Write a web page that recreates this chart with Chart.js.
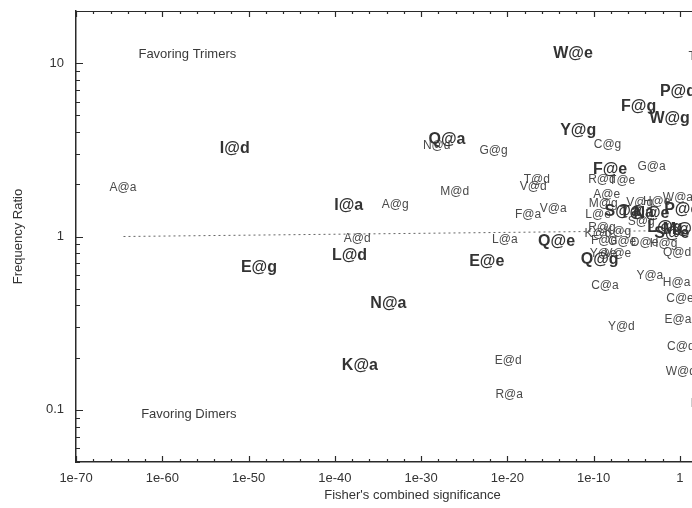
<!DOCTYPE html>
<html>
<head>
<title>Frequency ratio vs Fisher's combined significance</title>
<script src="https://cdn.jsdelivr.net/npm/chart.js"></script>
<style>
  html, body { margin: 0; padding: 0; overflow: hidden; background: #fff; }
</style>
</head>
<body>
<canvas id="fisherChart" width="760" height="508"></canvas>
<script>
// significant residue@position pairs (drawn bold)
const strongNames = ['W@e', 'P@d', 'F@g', 'W@g', 'Y@g', 'F@e', 'I@d', 'Q@a', 'I@a', 'L@d',
                     'E@g', 'N@a', 'K@a', 'E@e', 'Q@e', 'Q@g',
                     'S@a', 'T@a', 'N@e', 'P@e', 'L@g', 'M@a', 'S@e'];
const strongP = [4e-13, 0.58, 1.6e-5, 0.063, 1.6e-12, 7.9e-9, 2.5e-52, 1e-27, 4e-39, 5e-39,
                 1.6e-49, 1.6e-34, 8e-38, 4e-23, 5e-15, 5e-10,
                 2e-7, 1e-5, 5e-4, 1.6, 0.018, 1.6, 0.115];
const strongRatio = [11.3, 6.9, 5.6, 4.78, 4.08, 2.43, 3.21, 3.62, 1.51, 0.777,
                     0.663, 0.411, 0.181, 0.718, 0.936, 0.738,
                     1.39, 1.37, 1.36, 1.43, 1.13, 1.1, 1.04];

// remaining pairs (drawn plain)
const weakNames = ['A@a', 'N@d', 'G@g', 'M@d', 'T@d', 'V@d', 'F@a', 'V@a', 'L@a', 'A@g',
                   'A@d', 'E@d', 'R@a', 'C@g', 'G@a', 'Y@a', 'H@a', 'C@a', 'C@e', 'E@a',
                   'Y@d', 'C@d', 'W@d', 'Q@d',
                   'R@d', 'T@e', 'A@e', 'M@g', 'V@g', 'H@e', 'W@a', 'L@e', 'S@g', 'R@g',
                   'K@d', 'K@g', 'F@d', 'G@e', 'D@e', 'H@g', 'Y@e', 'V@e', 'T@g', 'D@d'];
const weakP = [2.8e-65, 6.3e-29, 2.5e-22, 7.9e-27, 2.5e-17, 1e-17, 2.5e-18, 2e-15, 5e-21, 1e-33,
               4e-38, 1.26e-20, 1.6e-20, 4e-9, 5e-4, 3.2e-4, 0.4, 2e-9, 1, 0.58,
               1.6e-7, 1.26, 1.26, 0.45,
               9e-10, 2e-7, 3.2e-9, 1.26e-9, 2.2e-5, 2e-3, 0.58, 3.2e-10, 3.2e-5, 9e-10,
               3.2e-10, 6.3e-8, 1.6e-9, 2e-7, 8e-5, 0.0126, 1.26e-9, 6.3e-8, 316, 700];
const weakRatio = [1.91, 3.34, 3.13, 1.82, 2.13, 1.94, 1.34, 1.45, 0.96, 1.53,
                   0.974, 0.193, 0.1216, 3.39, 2.53, 0.596, 0.544, 0.522, 0.44, 0.333,
                   0.303, 0.23, 0.165, 0.809,
                   2.13, 2.1, 1.74, 1.55, 1.57, 1.59, 1.68, 1.34, 1.22, 1.13,
                   1.04, 1.07, 0.948, 0.936, 0.924, 0.912, 0.798, 0.798, 10.9, 0.108];

const regionNames = ['Favoring Trimers', 'Favoring Dimers'];
const regionP = [8e-58, 1.2e-57];
const regionRatio = [11.2, 0.0944];

// fitted trend through the pairs
const trendP = [3.2e-65, 100];
const trendRatio = [1.0, 1.085];

const xTickExponents = [];
for (let e = -70; e <= 8; e += 2) xTickExponents.push(e);
const yTickValues = [];
for (let k = -2; k <= 1; k++) {
  for (let m = 1; m <= 9; m++) {
    const v = m * Math.pow(10, k);
    if (v >= 0.05 && v <= 20) yTickValues.push(v);
  }
}

const FONT = '"Liberation Sans", Arial, Helvetica, sans-serif';

function toPoints(xs, ys) {
  return xs.map((x, i) => ({ x: x, y: ys[i] }));
}

function isDecade(v) {
  const l = Math.log10(v);
  return Math.abs(l - Math.round(l)) < 1e-9;
}

// draws each point's name at its position
const textLabels = {
  id: 'textLabels',
  afterDatasetsDraw(chart) {
    const ctx = chart.ctx;
    chart.data.datasets.forEach((ds, di) => {
      if (!ds.names) return;
      const meta = chart.getDatasetMeta(di);
      ctx.save();
      ctx.font = ds.labelFont;
      ctx.fillStyle = ds.labelColor;
      ctx.textAlign = 'center';
      ctx.textBaseline = 'middle';
      meta.data.forEach((pt, i) => {
        ctx.fillText(ds.names[i], pt.x, pt.y);
      });
      ctx.restore();
    });
  }
};

// inward tick marks on the bottom, top and left edges
const innerTicks = {
  id: 'innerTicks',
  afterDraw(chart) {
    const ctx = chart.ctx;
    const area = chart.chartArea;
    const xs = chart.scales.x;
    const ys = chart.scales.y;
    ctx.save();
    ctx.strokeStyle = '#2a2a2a';
    ctx.lineWidth = 1.2;
    ctx.beginPath();
    ctx.moveTo(area.left, area.top + 0.5);
    ctx.lineTo(area.right, area.top + 0.5);
    xs.ticks.forEach(t => {
      const px = Math.round(xs.getPixelForValue(t.value)) + 0.5;
      const e = Math.round(Math.log10(t.value));
      const len = e % 10 === 0 ? 6 : 3;
      ctx.moveTo(px, area.bottom);
      ctx.lineTo(px, area.bottom - len);
      ctx.moveTo(px, area.top);
      ctx.lineTo(px, area.top + len);
    });
    ys.ticks.forEach(t => {
      const py = Math.round(ys.getPixelForValue(t.value)) + 0.5;
      const len = isDecade(t.value) ? 7 : 4;
      ctx.moveTo(area.left, py);
      ctx.lineTo(area.left + len, py);
    });
    ctx.stroke();
    ctx.restore();
  }
};

const ctx = document.getElementById('fisherChart').getContext('2d');
new Chart(ctx, {
  type: 'scatter',
  data: {
    datasets: [{
      data: toPoints(trendP, trendRatio),
      showLine: true,
      borderColor: '#666',
      borderWidth: 1,
      borderDash: [2, 3],
      pointRadius: 0
    }, {
      data: toPoints(weakP, weakRatio),
      names: weakNames,
      labelFont: '12px ' + FONT,
      labelColor: '#4a4a4a',
      pointRadius: 0
    }, {
      data: toPoints(strongP, strongRatio),
      names: strongNames,
      labelFont: 'bold 16px ' + FONT,
      labelColor: '#333',
      pointRadius: 0
    }, {
      data: toPoints(regionP, regionRatio),
      names: regionNames,
      labelFont: '13px ' + FONT,
      labelColor: '#3a3a3a',
      pointRadius: 0
    }]
  },
  options: {
    responsive: false,
    animation: false,
    events: [],
    layout: { padding: { top: 11, right: 11, left: 0, bottom: 0 } },
    plugins: {
      legend: { display: false },
      tooltip: { enabled: false }
    },
    scales: {
      x: {
        type: 'logarithmic',
        min: 1e-70,
        max: 1e8,
        afterBuildTicks(scale) {
          scale.ticks = xTickExponents.map(e => ({ value: Math.pow(10, e) }));
        },
        afterFit(scale) {
          scale.height = 46;
          scale.paddingLeft = 0;
          scale.paddingRight = 0;
        },
        grid: { display: true, drawOnChartArea: false, drawTicks: false },
        border: { display: true, color: '#2a2a2a', width: 1.5 },
        ticks: {
          autoSkip: false,
          maxRotation: 0,
          padding: 9,
          color: '#333',
          font: { family: FONT, size: 13 },
          callback(value) {
            const e = Math.round(Math.log10(value));
            if (e % 10 !== 0 || e > 0) return '';
            return e === 0 ? '1' : '1e' + e;
          }
        },
        title: {
          display: true,
          text: "Fisher's combined significance",
          color: '#333',
          font: { family: FONT, size: 13 },
          padding: { top: 0, bottom: 5 }
        }
      },
      y: {
        type: 'logarithmic',
        min: 0.05,
        max: 20,
        afterBuildTicks(scale) {
          scale.ticks = yTickValues.map(v => ({ value: v }));
        },
        afterFit(scale) {
          scale.width = 76;
          scale.paddingTop = 0;
          scale.paddingBottom = 0;
        },
        grid: { display: true, drawOnChartArea: false, drawTicks: false },
        border: { display: true, color: '#2a2a2a', width: 1.5 },
        ticks: {
          autoSkip: false,
          padding: 12,
          color: '#333',
          font: { family: FONT, size: 13 },
          callback(value) {
            if (!isDecade(value)) return '';
            return String(Math.round(value * 10) / 10);
          }
        },
        title: {
          display: true,
          text: 'Frequency Ratio',
          color: '#333',
          font: { family: FONT, size: 13 },
          padding: { top: 11, bottom: 0 }
        }
      }
    }
  },
  plugins: [textLabels, innerTicks]
});
</script>
</body>
</html>
